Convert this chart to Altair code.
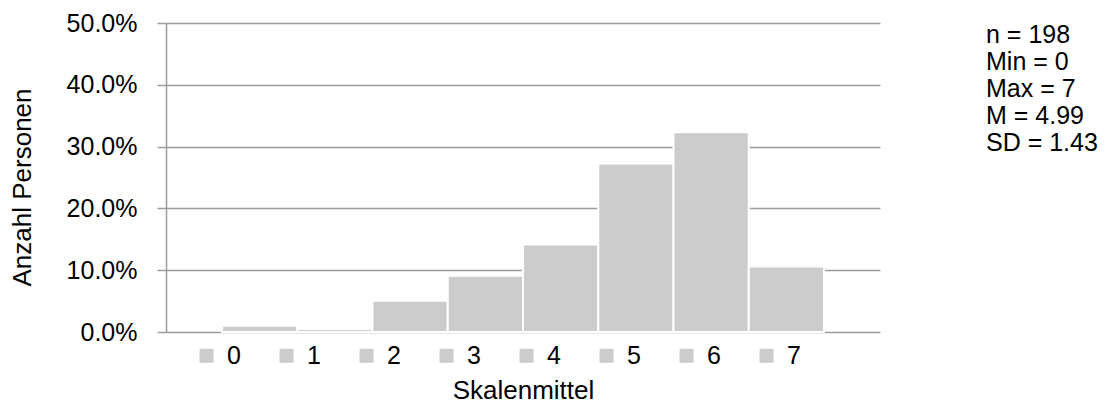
import altair as alt
import pandas as pd

# ---- data ----
categories = ["0", "1", "2", "3", "4", "5", "6", "7"]
counts = [2, 1, 10, 18, 28, 54, 64, 21]
n_total = 198
shares = [c / n_total for c in counts]
y_ticks = [0, 0.1, 0.2, 0.3, 0.4, 0.5]
stats_lines = ["n = 198", "Min = 0", "Max = 7", "M = 4.99", "SD = 1.43"]

FONT = "Liberation Sans"
GRID = "#9c9c9c"
BAR = "#cccccc"
FS = 25

df = pd.DataFrame({"Skalenmittel": categories, "share": shares})

bars = alt.Chart(df).mark_bar(stroke="white", strokeWidth=2).encode(
    x=alt.X("Skalenmittel:N", sort=categories,
            scale=alt.Scale(paddingInner=0, paddingOuter=0.744),
            axis=alt.Axis(labels=False, ticks=False, domain=False, grid=False,
                          title="Skalenmittel", titleY=66,
                          titleBaseline="alphabetic", titleFontSize=26)),
    y=alt.Y("share:Q",
            scale=alt.Scale(domain=[0, 0.5], nice=False),
            axis=alt.Axis(values=y_ticks, format=".1%", title="Anzahl Personen",
                          titleX=-144, titleY=164, titleAngle=-90,
                          titleAlign="center", titleBaseline="middle",
                          titleFontSize=26)),
    color=alt.Color("Skalenmittel:N", sort=categories,
                    scale=alt.Scale(domain=categories, range=[BAR]),
                    legend=alt.Legend(
                        orient="none", legendX=28, legendY=320,
                        direction="horizontal", columns=8,
                        symbolType="square", symbolSize=196,
                        symbolStrokeWidth=0, symbolOpacity=1,
                        labelFont=FONT, labelFontSize=FS, labelColor="black",
                        labelOffset=8, columnPadding=33, padding=0,
                        title=None)),
)

stats_df = pd.DataFrame({"t": ["\n".join(stats_lines)]})
stats = alt.Chart(stats_df).mark_text(
    align="left", baseline="alphabetic", lineBreak="\n", lineHeight=27,
    font=FONT, fontSize=FS, color="black"
).encode(x=alt.value(820), y=alt.value(19.5), text="t:N")

chart = alt.layer(bars, stats).properties(
    width=714, height=309,
    autosize=alt.AutoSizeParams(type="none"),
    padding={"left": 158, "top": 15, "right": 222, "bottom": 75},
).configure_view(stroke=None).configure_axis(
    domainColor=GRID, domainWidth=1.5,
    tickColor=GRID, tickWidth=1.5, tickSize=9,
    gridColor=GRID, gridWidth=1.5,
    labelFont=FONT, labelFontSize=FS, labelColor="black", labelPadding=20,
    titleFont=FONT, titleFontSize=FS, titleFontWeight="normal", titleColor="black",
)

chart.save("out.html", embed_options={"renderer": "svg", "actions": False})
